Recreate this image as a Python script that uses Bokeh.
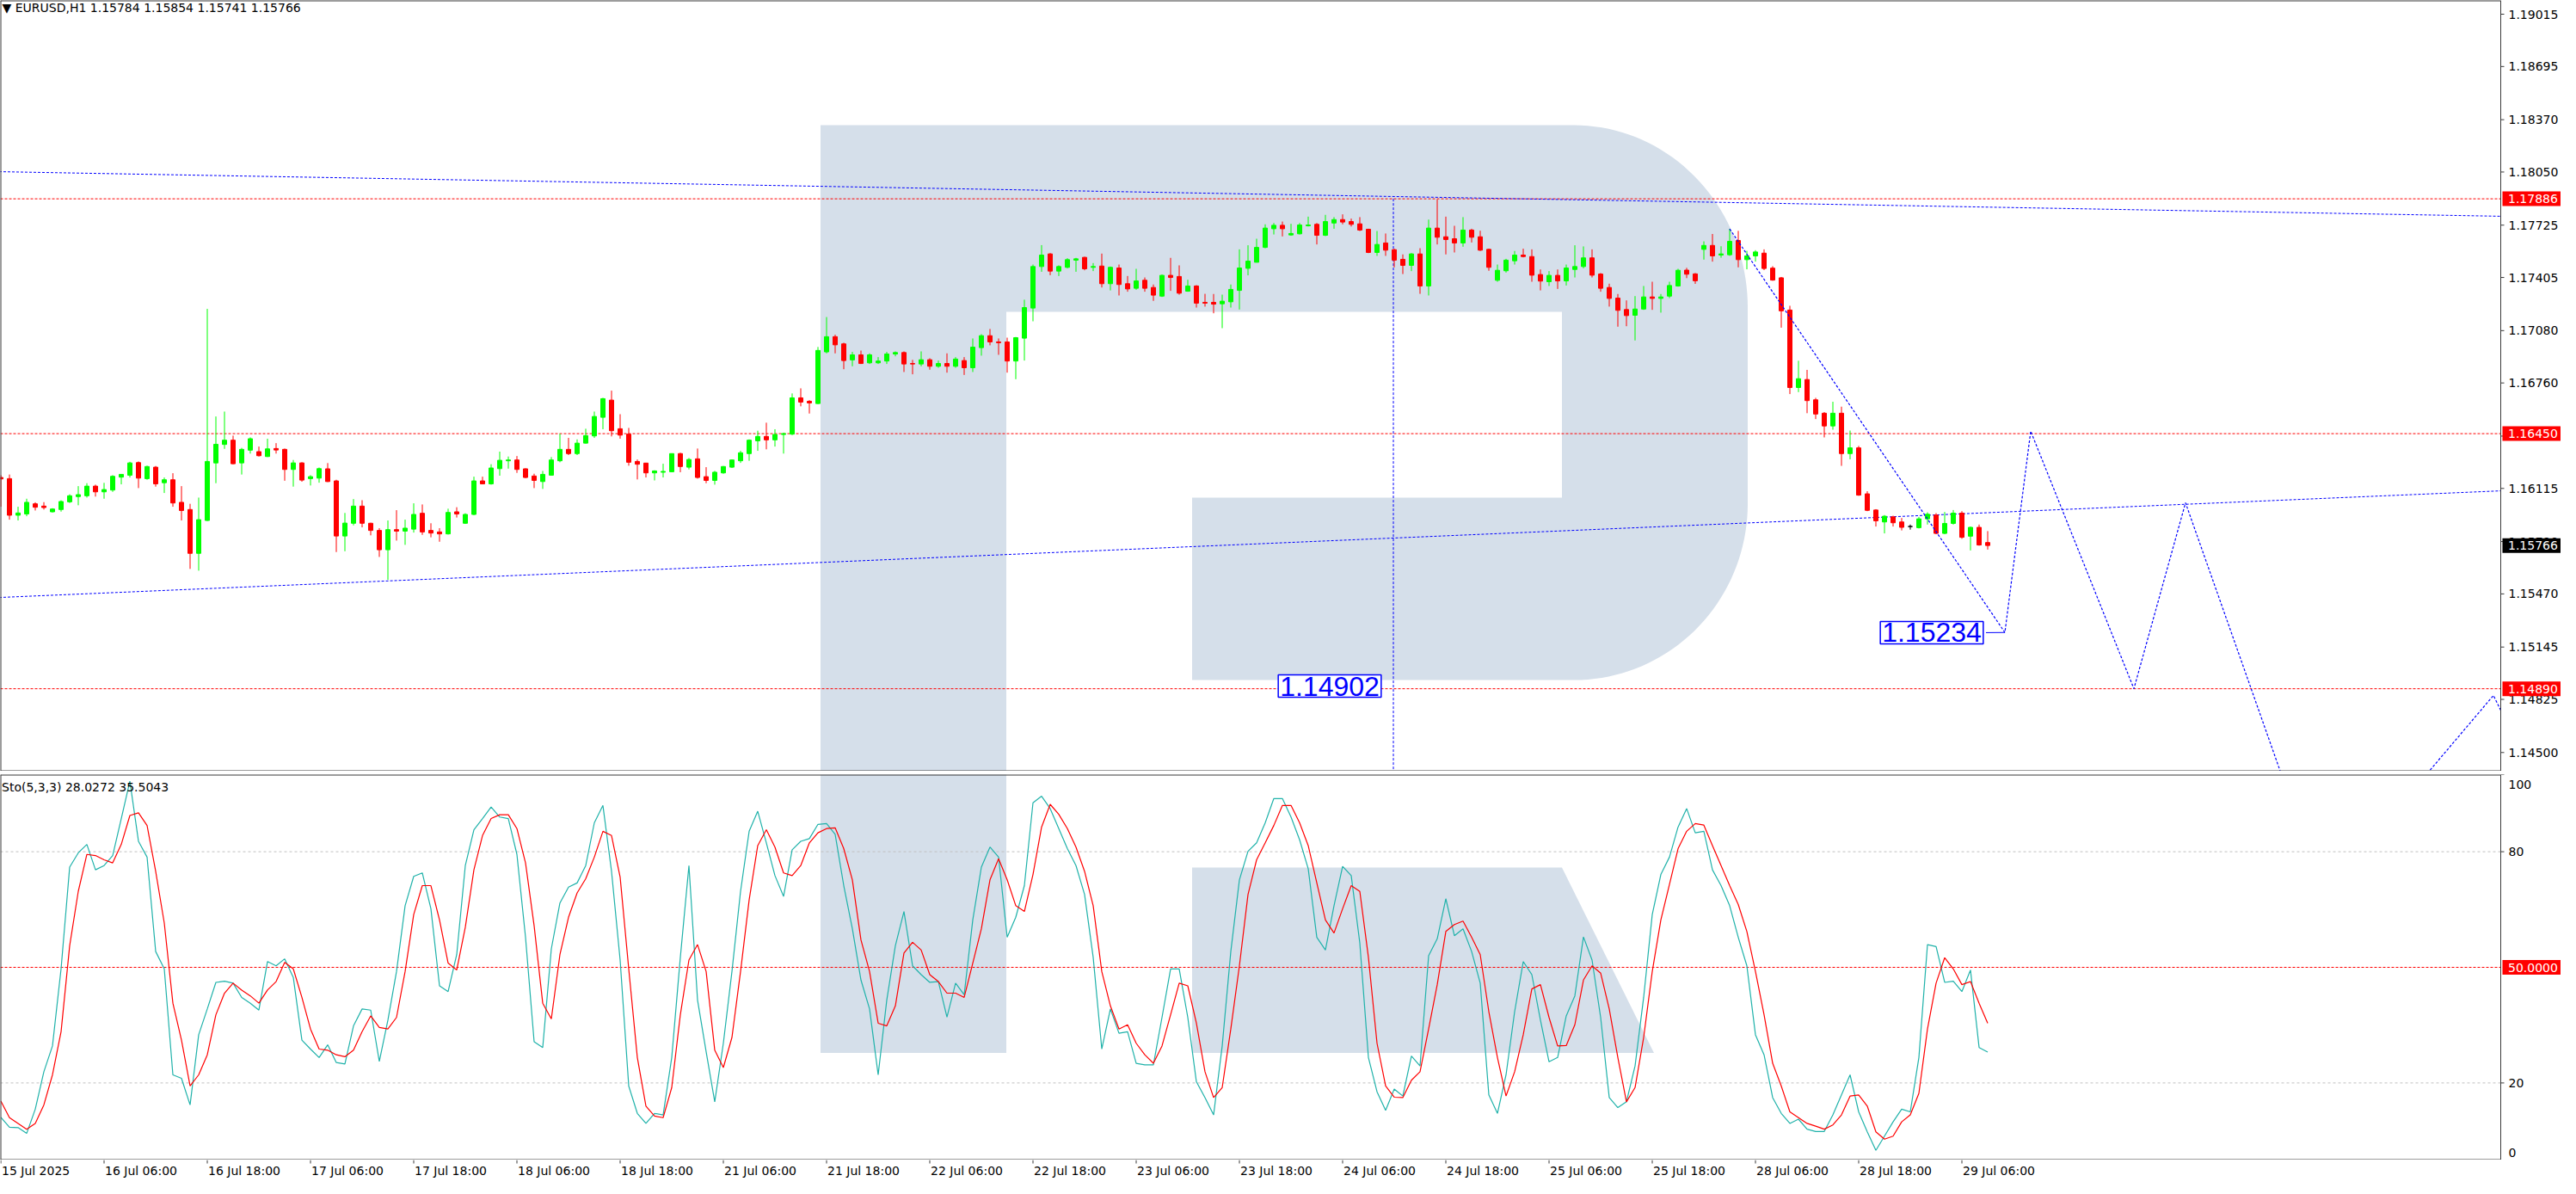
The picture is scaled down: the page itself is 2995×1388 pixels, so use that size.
import numpy as np
from bokeh.plotting import figure
from bokeh.models import Range1d, Label, ColumnDataSource
from bokeh.layouts import column
from bokeh.embed import file_html
from bokeh.resources import INLINE
from bokeh.core.properties import value

# ---------------- data (EURUSD H1, bars indexed from 16 Jul 06:00 = 0) ----------------
FIRST_BAR = -12
OPEN = [
    1.16182, 1.16175, 1.15951, 1.15959, 1.16021, 1.16007, 1.15972, 1.15986, 1.16033, 1.16065, 1.16070, 1.16129,
    1.16094, 1.16105, 1.16184, 1.16196, 1.16273, 1.16175, 1.16245, 1.16150, 1.16168, 1.16030, 1.15986, 1.15718,
    1.15919, 1.16271, 1.16384, 1.16410, 1.16271, 1.16349, 1.16340, 1.16310, 1.16359, 1.16354, 1.16231, 1.16271,
    1.16175, 1.16178, 1.16235, 1.16161, 1.15824, 1.15902, 1.16007, 1.15902, 1.15858, 1.15740, 1.15863, 1.15854,
    1.15866, 1.15963, 1.15858, 1.15849, 1.15837, 1.15972, 1.15902, 1.15956, 1.16161, 1.16143, 1.16236, 1.16284,
    1.16289, 1.16235, 1.16191, 1.16157, 1.16196, 1.16284, 1.16354, 1.16328, 1.16392, 1.16436, 1.16550, 1.16655,
    1.16480, 1.16447, 1.16280, 1.16270, 1.16210, 1.16214, 1.16217, 1.16328, 1.16245, 1.16296, 1.16187, 1.16164,
    1.16210, 1.16245, 1.16284, 1.16328, 1.16406, 1.16433, 1.16412, 1.16445, 1.16447, 1.16669, 1.16648, 1.16634,
    1.16950, 1.17043, 1.16999, 1.16901, 1.16932, 1.16883, 1.16883, 1.16894, 1.16937, 1.16946, 1.16879, 1.16876,
    1.16902, 1.16862, 1.16879, 1.16862, 1.16897, 1.16853, 1.16976, 1.17049, 1.17011, 1.17011, 1.16894, 1.17034,
    1.17218, 1.17472, 1.17549, 1.17444, 1.17467, 1.17511, 1.17528, 1.17467, 1.17475, 1.17367, 1.17463, 1.17367,
    1.17339, 1.17388, 1.17344, 1.17291, 1.17418, 1.17411, 1.17321, 1.17353, 1.17253, 1.17253, 1.17244, 1.17256,
    1.17326, 1.17461, 1.17498, 1.17589, 1.17703, 1.17724, 1.17665, 1.17672, 1.17721, 1.17730, 1.17663, 1.17738,
    1.17759, 1.17747, 1.17733, 1.17700, 1.17558, 1.17616, 1.17575, 1.17516, 1.17479, 1.17549, 1.17353, 1.17707,
    1.17654, 1.17642, 1.17616, 1.17695, 1.17654, 1.17577, 1.17388, 1.17446, 1.17507, 1.17542, 1.17533, 1.17423,
    1.17379, 1.17418, 1.17384, 1.17454, 1.17472, 1.17525, 1.17426, 1.17344, 1.17279, 1.17209, 1.17174, 1.17212,
    1.17286, 1.17277, 1.17291, 1.17353, 1.17450, 1.17427, 1.17577, 1.17601, 1.17542, 1.17544, 1.17631, 1.17514,
    1.17537, 1.17554, 1.17462, 1.17403, 1.17206, 1.16732, 1.16781, 1.16657, 1.16575, 1.16497, 1.16575, 1.16328,
    1.16363, 1.16082, 1.15983, 1.15910, 1.15941, 1.15910, 1.15882, 1.15875, 1.15929, 1.15952, 1.15840, 1.15901,
    1.15964, 1.15823, 1.15877, 1.15784,
]
HIGH = [
    1.16196, 1.16200, 1.16003, 1.16052, 1.16030, 1.16031, 1.15994, 1.16042, 1.16079, 1.16129, 1.16147, 1.16138,
    1.16149, 1.16196, 1.16201, 1.16278, 1.16280, 1.16254, 1.16252, 1.16182, 1.16208, 1.16129, 1.16021, 1.16059,
    1.17213, 1.16555, 1.16585, 1.16438, 1.16363, 1.16427, 1.16371, 1.16419, 1.16392, 1.16359, 1.16289, 1.16275,
    1.16196, 1.16243, 1.16270, 1.16168, 1.15965, 1.16050, 1.16043, 1.15905, 1.15872, 1.15919, 1.15982, 1.15924,
    1.16024, 1.16017, 1.15902, 1.15872, 1.15991, 1.16000, 1.15963, 1.16187, 1.16187, 1.16263, 1.16340, 1.16310,
    1.16313, 1.16238, 1.16205, 1.16222, 1.16307, 1.16450, 1.16424, 1.16415, 1.16480, 1.16585, 1.16669, 1.16713,
    1.16569, 1.16485, 1.16292, 1.16271, 1.16226, 1.16266, 1.16328, 1.16333, 1.16301, 1.16359, 1.16245, 1.16222,
    1.16252, 1.16292, 1.16345, 1.16415, 1.16468, 1.16517, 1.16477, 1.16456, 1.16696, 1.16727, 1.16655, 1.16980,
    1.17163, 1.17055, 1.17006, 1.16950, 1.16958, 1.16941, 1.16918, 1.16950, 1.16953, 1.16953, 1.16901, 1.16953,
    1.16911, 1.16897, 1.16941, 1.16918, 1.16918, 1.17032, 1.17058, 1.17090, 1.17032, 1.17037, 1.17041, 1.17269,
    1.17484, 1.17603, 1.17554, 1.17479, 1.17523, 1.17525, 1.17532, 1.17493, 1.17551, 1.17472, 1.17484, 1.17414,
    1.17458, 1.17405, 1.17362, 1.17423, 1.17525, 1.17479, 1.17391, 1.17358, 1.17305, 1.17304, 1.17300, 1.17362,
    1.17577, 1.17602, 1.17642, 1.17730, 1.17738, 1.17747, 1.17733, 1.17738, 1.17777, 1.17738, 1.17788, 1.17774,
    1.17791, 1.17765, 1.17774, 1.17703, 1.17689, 1.17674, 1.17581, 1.17546, 1.17554, 1.17584, 1.17759, 1.17882,
    1.17777, 1.17721, 1.17774, 1.17703, 1.17691, 1.17581, 1.17484, 1.17519, 1.17567, 1.17581, 1.17577, 1.17454,
    1.17444, 1.17454, 1.17484, 1.17602, 1.17595, 1.17577, 1.17432, 1.17367, 1.17304, 1.17265, 1.17291, 1.17353,
    1.17379, 1.17304, 1.17379, 1.17458, 1.17464, 1.17432, 1.17626, 1.17671, 1.17596, 1.17702, 1.17690, 1.17568,
    1.17572, 1.17577, 1.17474, 1.17408, 1.17232, 1.16896, 1.16840, 1.16669, 1.16582, 1.16645, 1.16615, 1.16469,
    1.16375, 1.16098, 1.15988, 1.15952, 1.15948, 1.15934, 1.15894, 1.15941, 1.15969, 1.15964, 1.15971, 1.15983,
    1.15976, 1.15882, 1.15894, 1.15854,
]
LOW = [
    1.16003, 1.15924, 1.15919, 1.15945, 1.15980, 1.15986, 1.15968, 1.15973, 1.16026, 1.16012, 1.16059, 1.16065,
    1.16052, 1.16094, 1.16140, 1.16182, 1.16117, 1.16168, 1.16126, 1.16087, 1.16003, 1.15919, 1.15623, 1.15612,
    1.15916, 1.16147, 1.16357, 1.16263, 1.16200, 1.16328, 1.16310, 1.16307, 1.16328, 1.16162, 1.16126, 1.16156,
    1.16133, 1.16150, 1.16154, 1.15726, 1.15731, 1.15889, 1.15877, 1.15828, 1.15696, 1.15556, 1.15796, 1.15770,
    1.15845, 1.15831, 1.15816, 1.15789, 1.15833, 1.15937, 1.15898, 1.15951, 1.16140, 1.16138, 1.16193, 1.16236,
    1.16210, 1.16178, 1.16117, 1.16112, 1.16193, 1.16275, 1.16319, 1.16319, 1.16389, 1.16424, 1.16477, 1.16433,
    1.16419, 1.16254, 1.16170, 1.16182, 1.16164, 1.16182, 1.16214, 1.16214, 1.16231, 1.16175, 1.16147, 1.16138,
    1.16205, 1.16240, 1.16271, 1.16284, 1.16345, 1.16354, 1.16371, 1.16328, 1.16441, 1.16617, 1.16573, 1.16631,
    1.16941, 1.16941, 1.16844, 1.16862, 1.16876, 1.16876, 1.16876, 1.16876, 1.16923, 1.16827, 1.16813, 1.16862,
    1.16841, 1.16853, 1.16823, 1.16853, 1.16809, 1.16827, 1.16927, 1.16990, 1.16932, 1.16823, 1.16783, 1.16897,
    1.17137, 1.17440, 1.17419, 1.17414, 1.17461, 1.17440, 1.17449, 1.17444, 1.17344, 1.17326, 1.17295, 1.17318,
    1.17330, 1.17318, 1.17262, 1.17286, 1.17323, 1.17300, 1.17318, 1.17221, 1.17227, 1.17186, 1.17095, 1.17221,
    1.17209, 1.17418, 1.17497, 1.17584, 1.17668, 1.17656, 1.17660, 1.17668, 1.17717, 1.17607, 1.17658, 1.17703,
    1.17730, 1.17717, 1.17689, 1.17554, 1.17537, 1.17537, 1.17467, 1.17426, 1.17444, 1.17305, 1.17295, 1.17607,
    1.17546, 1.17558, 1.17593, 1.17619, 1.17567, 1.17446, 1.17379, 1.17435, 1.17484, 1.17528, 1.17379, 1.17326,
    1.17353, 1.17335, 1.17356, 1.17405, 1.17461, 1.17405, 1.17318, 1.17227, 1.17104, 1.17107, 1.17020, 1.17207,
    1.17207, 1.17190, 1.17279, 1.17349, 1.17401, 1.17366, 1.17514, 1.17502, 1.17526, 1.17537, 1.17467, 1.17455,
    1.17502, 1.17450, 1.17385, 1.17098, 1.16692, 1.16704, 1.16575, 1.16539, 1.16427, 1.16474, 1.16253, 1.16293,
    1.16070, 1.15976, 1.15882, 1.15840, 1.15882, 1.15858, 1.15863, 1.15870, 1.15894, 1.15835, 1.15835, 1.15894,
    1.15807, 1.15736, 1.15765, 1.15741,
]
CLOSE = [
    1.16173, 1.15951, 1.15965, 1.16030, 1.16000, 1.15998, 1.15989, 1.16035, 1.16070, 1.16077, 1.16129, 1.16094,
    1.16108, 1.16189, 1.16201, 1.16271, 1.16178, 1.16249, 1.16143, 1.16168, 1.16026, 1.15980, 1.15718, 1.15924,
    1.16280, 1.16385, 1.16410, 1.16266, 1.16354, 1.16419, 1.16315, 1.16357, 1.16350, 1.16231, 1.16271, 1.16166,
    1.16187, 1.16236, 1.16157, 1.15824, 1.15903, 1.16007, 1.15902, 1.15858, 1.15740, 1.15863, 1.15854, 1.15872,
    1.15956, 1.15849, 1.15842, 1.15837, 1.15968, 1.15959, 1.15956, 1.16161, 1.16143, 1.16240, 1.16287, 1.16289,
    1.16231, 1.16182, 1.16164, 1.16201, 1.16289, 1.16354, 1.16328, 1.16392, 1.16438, 1.16555, 1.16664, 1.16468,
    1.16441, 1.16275, 1.16263, 1.16210, 1.16222, 1.16219, 1.16328, 1.16249, 1.16292, 1.16182, 1.16164, 1.16214,
    1.16249, 1.16289, 1.16333, 1.16410, 1.16433, 1.16412, 1.16445, 1.16450, 1.16669, 1.16643, 1.16638, 1.16959,
    1.17043, 1.16993, 1.16897, 1.16932, 1.16879, 1.16932, 1.16894, 1.16937, 1.16946, 1.16876, 1.16876, 1.16902,
    1.16862, 1.16879, 1.16862, 1.16906, 1.16853, 1.16979, 1.17049, 1.17011, 1.17006, 1.16894, 1.17037, 1.17221,
    1.17472, 1.17542, 1.17444, 1.17472, 1.17514, 1.17519, 1.17458, 1.17472, 1.17367, 1.17467, 1.17362, 1.17335,
    1.17384, 1.17339, 1.17297, 1.17418, 1.17405, 1.17309, 1.17353, 1.17248, 1.17248, 1.17242, 1.17260, 1.17332,
    1.17463, 1.17505, 1.17589, 1.17707, 1.17724, 1.17703, 1.17674, 1.17726, 1.17726, 1.17663, 1.17747, 1.17759,
    1.17744, 1.17730, 1.17695, 1.17558, 1.17607, 1.17572, 1.17511, 1.17479, 1.17549, 1.17353, 1.17707, 1.17651,
    1.17637, 1.17616, 1.17695, 1.17651, 1.17572, 1.17467, 1.17449, 1.17511, 1.17542, 1.17533, 1.17419, 1.17383,
    1.17418, 1.17384, 1.17463, 1.17472, 1.17525, 1.17419, 1.17339, 1.17277, 1.17204, 1.17172, 1.17212, 1.17286,
    1.17277, 1.17286, 1.17356, 1.17449, 1.17425, 1.17385, 1.17601, 1.17537, 1.17549, 1.17626, 1.17514, 1.17537,
    1.17561, 1.17460, 1.17389, 1.17201, 1.16732, 1.16786, 1.16652, 1.16570, 1.16497, 1.16575, 1.16328, 1.16363,
    1.16074, 1.15981, 1.15917, 1.15945, 1.15905, 1.15877, 1.15882, 1.15929, 1.15957, 1.15840, 1.15901, 1.15964,
    1.15816, 1.15877, 1.15769, 1.15766,
]
# Stochastic(5,3,3): %K main line and %D signal line
STO_K = [
    11.1, 8.5, 8.4, 6.9, 13.2, 22.9, 29.6, 49.6, 76.0, 79.7, 81.9, 75.3,
    76.4, 79.0, 88.6, 98.3, 82.7, 78.6, 54.1, 49.6, 22.1, 21.2, 14.3, 32.5,
    39.2, 46.1, 46.4, 45.9, 42.2, 40.7, 38.9, 51.5, 50.4, 52.2, 47.4, 31.1,
    28.8, 26.6, 29.9, 25.3, 24.9, 34.8, 39.2, 38.9, 25.6, 36.3, 48.9, 66.0,
    73.6, 74.5, 65.2, 45.2, 43.7, 53.3, 76.4, 85.7, 88.6, 91.6, 89.0, 88.6,
    79.3, 57.8, 30.7, 29.2, 54.8, 66.7, 70.8, 71.9, 76.4, 87.5, 92.0, 74.9,
    51.9, 19.2, 12.1, 9.5, 12.1, 11.7, 26.6, 52.6, 76.4, 41.5, 28.1, 15.1,
    30.3, 48.9, 69.7, 85.3, 90.5, 82.3, 73.8, 68.4, 80.5, 82.7, 83.4, 87.1,
    87.3, 84.5, 71.2, 60.0, 46.7, 39.2, 22.1, 41.5, 55.6, 64.5, 50.4, 48.1,
    46.1, 46.3, 37.1, 45.9, 42.9, 62.3, 76.0, 81.2, 78.6, 57.8, 63.0, 71.2,
    92.7, 94.4, 91.2, 86.0, 80.8, 76.4, 68.9, 52.6, 28.8, 39.2, 32.9, 33.3,
    25.1, 24.7, 24.7, 37.0, 49.6, 49.6, 37.0, 20.3, 16.2, 11.7, 29.6, 54.1,
    72.7, 80.1, 82.3, 87.5, 93.8, 93.8, 89.0, 83.1, 75.6, 57.8, 54.5, 66.0,
    76.2, 73.8, 56.3, 26.6, 17.7, 12.9, 18.4, 16.6, 27.0, 24.4, 53.0, 57.4,
    67.8, 58.2, 60.0, 54.1, 45.9, 16.9, 12.1, 22.1, 38.5, 51.5, 48.1, 36.3,
    25.5, 26.6, 37.4, 42.6, 57.9, 51.9, 37.0, 16.2, 13.6, 15.1, 24.4, 42.2,
    63.7, 74.1, 78.6, 86.4, 91.2, 84.9, 85.3, 75.3, 71.2, 66.0, 57.8, 50.4,
    32.5, 27.3, 16.2, 12.1, 9.5, 10.6, 8.0, 7.4, 7.4, 11.7, 16.9, 22.1,
    12.5, 7.3, 2.5, 6.2, 9.9, 13.2, 12.5, 26.6, 55.9, 55.4, 46.1, 46.4,
    43.7, 49.3, 29.2, 28.0272,
]
STO_D = [
    15.3, 11.0, 9.5, 8.0, 9.5, 14.3, 22.1, 33.3, 55.6, 69.7, 79.3, 79.0,
    77.9, 77.1, 81.9, 89.4, 90.1, 86.8, 74.9, 61.5, 40.7, 31.1, 19.2, 22.1,
    27.3, 37.7, 43.3, 45.9, 44.1, 42.6, 40.7, 44.1, 46.3, 51.3, 49.6, 42.2,
    34.0, 28.8, 28.5, 27.3, 26.8, 28.5, 33.3, 37.4, 34.4, 34.0, 37.0, 48.9,
    63.7, 71.2, 71.2, 62.3, 51.1, 49.3, 60.4, 75.3, 84.2, 88.6, 89.6, 89.6,
    86.0, 77.1, 60.8, 40.7, 36.6, 53.3, 63.0, 69.3, 73.0, 78.6, 85.3, 84.2,
    73.4, 49.6, 26.6, 14.0, 11.4, 11.0, 18.8, 37.7, 51.9, 55.9, 48.9, 28.5,
    24.0, 31.8, 48.9, 67.5, 81.6, 85.7, 81.2, 74.5, 73.8, 76.4, 82.3, 84.9,
    86.0, 86.2, 80.8, 72.7, 57.1, 48.9, 35.5, 34.8, 40.0, 53.7, 56.5, 54.5,
    48.1, 46.3, 43.3, 43.3, 42.2, 51.1, 60.0, 72.7, 78.2, 72.7, 66.0, 64.5,
    74.1, 86.4, 92.3, 89.7, 86.0, 81.2, 74.9, 66.0, 48.9, 40.0, 34.0, 35.1,
    30.3, 27.3, 25.1, 29.6, 37.7, 45.9, 45.2, 35.5, 22.9, 16.2, 18.8, 34.0,
    50.4, 68.9, 77.9, 82.3, 86.8, 92.0, 92.0, 87.5, 81.6, 71.9, 62.3, 58.9,
    65.2, 71.2, 69.7, 52.6, 30.3, 19.2, 16.3, 16.2, 20.7, 22.9, 34.0, 45.5,
    59.3, 61.1, 62.0, 57.8, 53.3, 38.5, 26.6, 16.6, 22.9, 32.5, 44.4, 45.5,
    37.0, 29.6, 29.7, 35.1, 46.7, 50.4, 48.5, 39.2, 26.6, 15.1, 18.8, 31.8,
    48.9, 62.3, 71.5, 80.8, 85.3, 87.3, 86.9, 81.6, 76.4, 71.2, 66.3, 59.3,
    48.9, 37.7, 25.1, 19.2, 12.5, 11.0, 9.5, 8.8, 8.0, 9.1, 11.7, 16.6,
    16.9, 14.0, 7.3, 5.4, 6.2, 9.9, 11.7, 17.3, 34.0, 45.9, 52.5, 49.6,
    45.5, 46.3, 40.7, 35.5043,
]

PRICE_TICKS = [1.19015, 1.18695, 1.18370, 1.18050, 1.17725, 1.17405, 1.17080, 1.16760,
               1.16435, 1.16115, 1.15790, 1.15470, 1.15145, 1.14825, 1.14500]
RED_LEVELS = [1.17886, 1.16450, 1.14890]
BID_PRICE = 1.15766
STO_LEVELS = [20, 80]
STO_MID = 50
STO_TICKS = [100, 80, 20, 0]
STO_TICK_LABELS = ["100", "80", "20", "0"]
TIME_TICKS = [-12, 0, 12, 24, 36, 48, 60, 72, 84, 96, 108, 120, 132, 144, 156, 168, 180, 192, 204, 216]
TIME_LABELS = ["15 Jul 2025", "16 Jul 06:00", "16 Jul 18:00", "17 Jul 06:00", "17 Jul 18:00",
               "18 Jul 06:00", "18 Jul 18:00", "21 Jul 06:00", "21 Jul 18:00", "22 Jul 06:00",
               "22 Jul 18:00", "23 Jul 06:00", "23 Jul 18:00", "24 Jul 06:00", "24 Jul 18:00",
               "25 Jul 06:00", "25 Jul 18:00", "28 Jul 06:00", "28 Jul 18:00", "29 Jul 06:00"]

# drawn objects (trend lines, forecast path, annotations)
UPPER_TREND_X = [-12.2, 279.0]
UPPER_TREND_Y = [1.18052, 1.17779]
LOWER_TREND_X = [-12.2, 279.0]
LOWER_TREND_Y = [1.15448, 1.16101]
VLINE_X = 149.9
VLINE_TOP = 1.17886
FORECAST_X = [189.0, 221.0, 224.0, 236.0, 242.0, 258.1, 277.8, 282.0]
FORECAST_Y = [1.17702, 1.15234, 1.16465, 1.14890, 1.16027, 1.13628, 1.14849, 1.14400]
TARGET_LABELS = [("1.14902", 142.5, 1.14906), ("1.15234", 212.5, 1.15233)]
TARGET_LINK_X = [218.8, 221.0]   # short connector from the 1.15234 box to its point

# ---------------- layout / styling constants ----------------
INK = "#3A3A3A"
LOGO = "#D5DFEA"
BULL = "#00FF00"
BEAR = "#FF0000"
BLUE = "#0000FF"
FONT = "DejaVu Sans"
PLOT_W = 2977
X0, X1 = -12.05, 285.65          # full canvas width, 10 px per bar
BORDER_X = 278.65                # right edge of the chart area (price scale lives to its right)
LABEL_X = 279.55                 # left edge of scale labels
TAG_CX, TAG_W = 282.25, 6.8      # coloured price tags
P_MIN, P_MAX = 1.143858, 1.190992
PX_PER_PRICE = 896 / (P_MAX - P_MIN)
S_PX = 448 / 100.0

x = np.arange(FIRST_BAR, FIRST_BAR + len(OPEN))
o = np.array(OPEN); h = np.array(HIGH); l = np.array(LOW); c = np.array(CLOSE)
colors = [BULL if cc > oo else (BEAR if cc < oo else "#000000") for oo, cc in zip(o, c)]
src = ColumnDataSource(dict(x=x, top=np.maximum(o, c), bottom=np.minimum(o, c),
                            hi=np.maximum(h, np.maximum(o, c)), lo=np.minimum(l, np.minimum(o, c)),
                            color=colors))

xr = Range1d(X0, X1)


def base_fig(height, y_range, top=0):
    p = figure(width=PLOT_W, height=height, x_range=xr, y_range=y_range,
               output_backend="svg", toolbar_location=None,
               x_axis_location=None, y_axis_location=None,
               min_border_left=0, min_border_right=0, min_border_top=top, min_border_bottom=0)
    p.grid.grid_line_color = None
    p.background_fill_color = "white"
    p.border_fill_color = "white"
    p.outline_line_color = None
    return p


def frame_and_scale(p, ymin, ymax, ticks, tick_labels, label_y=None):
    # mask anything spilling into the scale area, then draw border, ticks and labels
    p.quad(left=BORDER_X, right=X1 + 1, bottom=ymin - (ymax - ymin), top=ymax + (ymax - ymin),
           fill_color="white", line_color=None)
    p.segment(x0=[X0, X0, X0, BORDER_X], y0=[ymax, ymin, ymin, ymin],
              x1=[BORDER_X, BORDER_X, X0, BORDER_X], y1=[ymax, ymin, ymax, ymax],
              line_color=INK, line_width=[2, 2, 2, 1])
    p.segment(x0=[BORDER_X] * len(ticks), y0=ticks, x1=[BORDER_X + 0.4] * len(ticks), y1=ticks,
              line_color=INK, line_width=1)
    p.text(x=[LABEL_X] * len(ticks), y=label_y if label_y is not None else ticks, text=tick_labels,
           text_font=value(FONT), text_font_size=value("14px"), text_color="black",
           text_align="left", text_baseline="middle")


def tags(p, ys, texts, fills, half_h):
    p.rect(x=[TAG_CX] * len(ys), y=ys, width=TAG_W, height=2 * half_h, fill_color=fills, line_color=None)
    p.text(x=[LABEL_X - 0.05] * len(ys), y=ys, text=texts, text_font=value(FONT),
           text_font_size=value("14px"), text_color="white", text_align="left", text_baseline="middle")


# ---------------- main price panel ----------------
p1 = base_fig(896, Range1d(P_MIN, P_MAX))

# watermark logo (top part)
t1 = np.linspace(np.pi / 2, 0, 40)
t2 = np.linspace(0, -np.pi / 2, 40)
lx = ([83.3] + list(170.9 + 20.2 * np.cos(t1)) + list(170.9 + 20.2 * np.cos(t2)) +
      [126.5, 126.5, 169.5, 169.5, 104.9, 104.9, 83.3])
ly = ([1.18336] + list(1.17221 + 0.01115 * np.sin(t1)) + list(1.16022 + 0.01079 * np.sin(t2)) +
      [1.14943, 1.16059, 1.16059, 1.17195, 1.17195, 1.13, 1.13])
p1.patch(lx, ly, fill_color=LOGO, line_color=None, level="underlay")

for lv in RED_LEVELS:
    p1.line([X0, BORDER_X], [lv, lv], line_color="#FF0000", line_dash="3 2", line_width=1)
p1.line(UPPER_TREND_X, UPPER_TREND_Y, line_color=BLUE, line_dash="3 2", line_width=1)
p1.line(LOWER_TREND_X, LOWER_TREND_Y, line_color=BLUE, line_dash="3 2", line_width=1)
p1.line([VLINE_X, VLINE_X], [VLINE_TOP, P_MIN - 0.01], line_color=BLUE, line_dash="3 2", line_width=1)

p1.segment(x0="x", y0="lo", x1="x", y1="hi", line_color="color", line_width=1, source=src)
p1.vbar(x="x", width=0.5, top="top", bottom="bottom", fill_color="color", line_color="color",
        line_width=1, source=src)

p1.line(FORECAST_X, FORECAST_Y, line_color=BLUE, line_dash="3 2", line_width=1.2)
p1.line(TARGET_LINK_X, [TARGET_LABELS[1][2], FORECAST_Y[1]], line_color=BLUE, line_width=1)

frame_and_scale(p1, P_MIN, P_MAX, PRICE_TICKS, [f"{t:.5f}" for t in PRICE_TICKS])
tags(p1, RED_LEVELS + [BID_PRICE], [f"{v:.5f}" for v in RED_LEVELS + [BID_PRICE]],
     ["#FF0000"] * len(RED_LEVELS) + ["#000000"], 8.5 / PX_PER_PRICE)

for txt, tx, ty in TARGET_LABELS:
    p1.add_layout(Label(x=tx, y=ty, text=txt, text_font="Liberation Sans", text_font_size="32px",
                        text_color=BLUE, text_align="center", text_baseline="middle",
                        background_fill_color="white", border_line_color=BLUE, border_line_width=1.5,
                        padding=2))

p1.add_layout(Label(x=-11.85, y=P_MAX - 8 / PX_PER_PRICE,
                    text="\u25BC EURUSD,H1  1.15784 1.15854 1.15741 1.15766",
                    text_font=FONT, text_font_size="14px", text_color="black",
                    text_align="left", text_baseline="middle"))

# ---------------- stochastic panel ----------------
p2 = base_fig(452, Range1d(0, 100), top=4)
p2.patch([83.3, 104.9, 104.9, 83.3], [101, 101, 27.8, 27.8], fill_color=LOGO, line_color=None,
         level="underlay")
p2.patch([126.5, 169.5, 180.2, 126.5], [75.9, 75.9, 27.8, 27.8], fill_color=LOGO, line_color=None,
         level="underlay")
for lv in STO_LEVELS:
    p2.line([X0, BORDER_X], [lv, lv], line_color="#C0C0C0", line_dash="3 3", line_width=1)
p2.line([X0, BORDER_X], [STO_MID, STO_MID], line_color="#FF0000", line_dash="3 2", line_width=1)
p2.line(x, STO_K, line_color="#20B2AA", line_width=1.2)
p2.line(x, STO_D, line_color="#FF0000", line_width=1.2)
frame_and_scale(p2, 0, 100, STO_TICKS, STO_TICK_LABELS,
                label_y=[100 - 11 / S_PX, 80, 20, 9 / S_PX])
tags(p2, [STO_MID], [f"{STO_MID:.4f}"], ["#FF0000"], 8.5 / S_PX)
p2.add_layout(Label(x=-11.9, y=100 - 14.5 / S_PX, text="Sto(5,3,3) 28.0272 35.5043", text_font=FONT,
                    text_font_size="14px", text_color="black", text_align="left", text_baseline="middle"))

# ---------------- time axis strip ----------------
p3 = base_fig(24, Range1d(0, 24))
p3.segment(x0=TIME_TICKS, y0=[24] * len(TIME_TICKS), x1=TIME_TICKS, y1=[20] * len(TIME_TICKS),
           line_color=INK, line_width=1)
p3.text(x=TIME_TICKS, y=[12] * len(TIME_TICKS), text=TIME_LABELS, text_font=value(FONT),
        text_font_size=value("14px"), text_color="black", text_align="left", text_baseline="middle",
        x_offset=1)

layout = column(p1, p2, p3, spacing=0)
open("out.html", "w").write(file_html(layout, INLINE))
